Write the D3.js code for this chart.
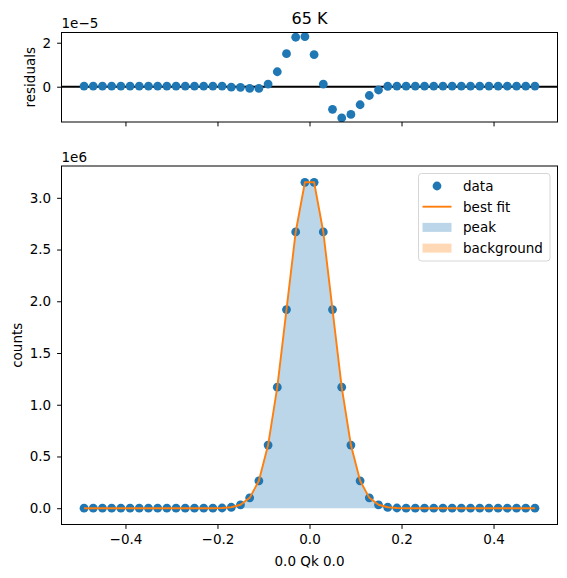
<!DOCTYPE html>
<html lang="en">
<head>
	<meta charset="utf-8">
	<title> 65 K fit </title>
	<script src="https://d3js.org/d3.v7.min.js"></script>
	<style type="text/css">
	body { margin: 0; background: #fff; }
	text { font-family: "DejaVu Sans", sans-serif; fill: #000; }
	</style>
</head>
<body>
	<svg id="chart" width="567" height="578"></svg>

	<script type="text/javascript">
	// colors (matplotlib tab10)
	blue = "#1f77b4"
	orange = "#ff7f0e"

	// data
	var qk = [-0.49, -0.47, -0.45, -0.43, -0.41, -0.39, -0.37, -0.35, -0.33, -0.31,
		-0.29, -0.27, -0.25, -0.23, -0.21, -0.19, -0.17, -0.15, -0.13, -0.11,
		-0.09, -0.07, -0.05, -0.03, -0.01, 0.01, 0.03, 0.05, 0.07, 0.09,
		0.11, 0.13, 0.15, 0.17, 0.19, 0.21, 0.23, 0.25, 0.27, 0.29,
		0.31, 0.33, 0.35, 0.37, 0.39, 0.41, 0.43, 0.45, 0.47, 0.49]

	var counts = [0, 0, 0, 0, 0, 0, 0, 0, 0, 0,
		0, 0, 0, 0, 0, 2000, 9000, 33000, 100000, 265000,
		610000, 1170000, 1920000, 2670000, 3150000, 3150000, 2670000, 1920000, 1170000, 610000,
		265000, 100000, 33000, 9000, 2000, 0, 0, 0, 0, 0,
		0, 0, 0, 0, 0, 0, 0, 0, 0, 0]

	var bestFit = [0, 0, 0, 0, 0, 0, 0, 0, 0, 0,
		0, 0, 0, 0, 0, 2000, 9000, 33000, 100000, 265000,
		610000, 1170000, 1920000, 2670000, 3150000, 3150000, 2670000, 1920000, 1170000, 610000,
		265000, 100000, 33000, 9000, 2000, 0, 0, 0, 0, 0,
		0, 0, 0, 0, 0, 0, 0, 0, 0, 0]

	var background = [0, 0, 0, 0, 0, 0, 0, 0, 0, 0,
		0, 0, 0, 0, 0, 0, 0, 0, 0, 0,
		0, 0, 0, 0, 0, 0, 0, 0, 0, 0,
		0, 0, 0, 0, 0, 0, 0, 0, 0, 0,
		0, 0, 0, 0, 0, 0, 0, 0, 0, 0]

	// residuals, in units of 1e-5
	var residuals = [0.03, 0.03, 0.03, 0.03, 0.03, 0.03, 0.03, 0.03, 0.03, 0.03,
		0.03, 0.03, 0.03, 0.03, 0.03, 0.03, -0.02, -0.03, -0.08, -0.08,
		0.12, 0.68, 1.50, 2.25, 2.28, 1.46, 0.12, -1.03, -1.42, -1.26,
		-0.82, -0.40, -0.15, 0.02, 0.03, 0.03, 0.03, 0.03, 0.03, 0.03,
		0.03, 0.03, 0.03, 0.03, 0.03, 0.03, 0.03, 0.03, 0.03, 0.03]

	var xTicks = [-0.4, -0.2, 0.0, 0.2, 0.4]
	var countTicks = [0, 0.5e6, 1.0e6, 1.5e6, 2.0e6, 2.5e6, 3.0e6]
	var residTicks = [0, 2]
	var legendLabels = ["data", "best fit", "peak", "background"]

	// layout
	var left = 61.5, right = 557.5
	var top1 = 32.5, bottom1 = 122
	var top2 = 166, bottom2 = 524.5
	var fontSize = 13.5
	var tickLen = 4.4
	var dotR = 4.4

	function padded(ext) {
		var m = (ext[1] - ext[0]) * 0.05
		return [ext[0] - m, ext[1] + m]
	}
	function fmt(v) { return v < 0 ? "\u2212" + Math.abs(v).toFixed(1) : v.toFixed(1) }

	var x = d3.scaleLinear().domain(padded(d3.extent(qk))).range([left, right])
	var yC = d3.scaleLinear().domain(padded(d3.extent(counts))).range([bottom2, top2])
	var yR = d3.scaleLinear().domain(padded(d3.extent(residuals))).range([bottom1, top1])

	var svg = d3.select("#chart")

	var pts = qk.map(function(q, i) {
		return {q: q, c: counts[i], f: bestFit[i], b: background[i], r: residuals[i]}
	})

	// ---------- residual panel ----------
	var g1 = svg.append("g")
	var clip1 = svg.append("clipPath").attr("id", "clip1")
	clip1.append("rect").attr("x", left).attr("y", top1).attr("width", right - left).attr("height", bottom1 - top1)
	var p1 = g1.append("g").attr("clip-path", "url(#clip1)")

	p1.append("line")
		.attr("x1", left).attr("x2", right)
		.attr("y1", yR(0)).attr("y2", yR(0))
		.attr("stroke", "#000").attr("stroke-width", 2)

	p1.selectAll("circle")
		.data(pts)
		.enter()
		.append("circle")
		.attr("cx", function(d) { return x(d.q) })
		.attr("cy", function(d) { return yR(d.r) })
		.attr("r", dotR)
		.style("fill", blue)

	var ax1x = g1.append("g").attr("transform", "translate(0," + bottom1 + ")")
		.call(d3.axisBottom(x).tickValues(xTicks).tickSize(tickLen).tickFormat(""))
	var ax1y = g1.append("g").attr("transform", "translate(" + left + ",0)")
		.call(d3.axisLeft(yR).tickValues(residTicks).tickSize(tickLen).tickPadding(6).tickFormat(d3.format("d")))

	g1.append("rect")
		.attr("x", left).attr("y", top1).attr("width", right - left).attr("height", bottom1 - top1)
		.attr("fill", "none").attr("stroke", "#000").attr("stroke-width", 1)

	g1.append("text").attr("x", left).attr("y", 28)
		.style("font-size", fontSize + "px").text("1e\u22125")
	g1.append("text").attr("x", (left + right) / 2).attr("y", 24)
		.attr("text-anchor", "middle").style("font-size", "16px").text("65 K")
	g1.append("text")
		.attr("transform", "translate(35," + (top1 + bottom1) / 2 + ") rotate(-90)")
		.attr("text-anchor", "middle").style("font-size", fontSize + "px").text("residuals")

	// ---------- counts panel ----------
	var g2 = svg.append("g")
	var clip2 = svg.append("clipPath").attr("id", "clip2")
	clip2.append("rect").attr("x", left).attr("y", top2).attr("width", right - left).attr("height", bottom2 - top2)
	var p2 = g2.append("g").attr("clip-path", "url(#clip2)")

	var peakArea = d3.area()
		.x(function(d) { return x(d.q) })
		.y0(function(d) { return yC(d.b) })
		.y1(function(d) { return yC(d.f) })
	var bgArea = d3.area()
		.x(function(d) { return x(d.q) })
		.y0(yC(0))
		.y1(function(d) { return yC(d.b) })

	p2.append("path").datum(pts).attr("d", peakArea)
		.attr("fill", blue).attr("fill-opacity", 0.3)
	p2.append("path").datum(pts).attr("d", bgArea)
		.attr("fill", orange).attr("fill-opacity", 0.3)

	p2.selectAll("circle")
		.data(pts)
		.enter()
		.append("circle")
		.attr("cx", function(d) { return x(d.q) })
		.attr("cy", function(d) { return yC(d.c) })
		.attr("r", dotR)
		.style("fill", blue)

	var fitLine = d3.line()
		.x(function(d) { return x(d.q) })
		.y(function(d) { return yC(d.f) })
	p2.append("path").datum(pts).attr("d", fitLine)
		.attr("fill", "none").attr("stroke", orange).attr("stroke-width", 1.9)
		.attr("stroke-linejoin", "round")

	var ax2x = g2.append("g").attr("transform", "translate(0," + bottom2 + ")")
		.call(d3.axisBottom(x).tickValues(xTicks).tickSize(tickLen).tickPadding(6).tickFormat(fmt))
	var ax2y = g2.append("g").attr("transform", "translate(" + left + ",0)")
		.call(d3.axisLeft(yC).tickValues(countTicks).tickSize(tickLen).tickPadding(6)
			.tickFormat(function(v) { return fmt(v / 1e6) }))

	g2.append("rect")
		.attr("x", left).attr("y", top2).attr("width", right - left).attr("height", bottom2 - top2)
		.attr("fill", "none").attr("stroke", "#000").attr("stroke-width", 1)

	g2.append("text").attr("x", left).attr("y", 162)
		.style("font-size", fontSize + "px").text("1e6")
	g2.append("text")
		.attr("transform", "translate(22," + (top2 + bottom2) / 2 + ") rotate(-90)")
		.attr("text-anchor", "middle").style("font-size", fontSize + "px").text("counts")
	g2.append("text").attr("x", (left + right) / 2).attr("y", 566)
		.attr("text-anchor", "middle").style("font-size", fontSize + "px").text("0.0 Qk 0.0")

	// axis styling
	svg.selectAll(".domain").remove()
	svg.selectAll(".tick text").style("font-size", fontSize + "px").style("font-family", "DejaVu Sans")
	svg.selectAll(".tick line").attr("stroke", "#000").attr("stroke-width", 1)

	// ---------- legend ----------
	var lg = g2.append("g").attr("transform", "translate(418.5,173.5)")
	lg.append("rect")
		.attr("width", 131.5).attr("height", 87.5).attr("rx", 3)
		.attr("fill", "#fff").attr("fill-opacity", 0.8)
		.attr("stroke", "#d6d6d6").attr("stroke-width", 1)

	var rows = lg.selectAll("g.row")
		.data(legendLabels)
		.enter()
		.append("g")
		.attr("class", "row")
		.attr("transform", function(d, i) { return "translate(0," + (12.5 + i * 20.7) + ")" })

	rows.append("text")
		.attr("x", 44.5).attr("y", 4.8)
		.style("font-size", fontSize + "px")
		.text(function(d) { return d })

	rows.each(function(d, i) {
		var r = d3.select(this)
		if (i == 0) {
			r.append("circle").attr("cx", 18.5).attr("cy", 0).attr("r", dotR).style("fill", blue)
		} else if (i == 1) {
			r.append("line").attr("x1", 4).attr("x2", 33).attr("y1", 0).attr("y2", 0)
				.attr("stroke", orange).attr("stroke-width", 1.9)
		} else {
			r.append("rect").attr("x", 4).attr("y", -4.5).attr("width", 29).attr("height", 9)
				.attr("fill", i == 2 ? blue : orange).attr("fill-opacity", 0.3)
		}
	})
	</script>
</body>
</html>
